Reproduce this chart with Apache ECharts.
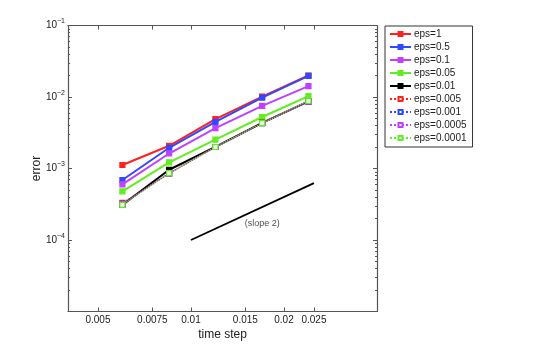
<!DOCTYPE html>
<html>
<head>
<meta charset="utf-8">
<script src="https://cdn.jsdelivr.net/npm/echarts@6/dist/echarts.min.js"></script>
<style>
  html, body { margin: 0; padding: 0; background: #fff; }
  #chart { width: 545px; height: 351px; }
</style>
</head>
<body>
<div id="chart"></div>
<script>
// time steps (x)
var steps = [0.006, 0.0085, 0.012, 0.017, 0.024];

// error for each eps
var eps1 = [1.12e-3, 2.08e-3, 4.9e-3, 1.01e-2, 2.0e-2];
var eps05 = [6.9e-4, 1.95e-3, 4.5e-3, 9.8e-3, 1.98e-2];
var eps01 = [6.0e-4, 1.62e-3, 3.66e-3, 7.5e-3, 1.42e-2];
var eps005 = [4.8e-4, 1.22e-3, 2.53e-3, 5.25e-3, 1.03e-2];
var eps001 = [3.1e-4, 9.6e-4, 2.0e-3, 4.35e-3, 8.7e-3];
var eps0005 = [3.3e-4, 8.5e-4, 2.0e-3, 4.35e-3, 8.7e-3];
var eps0001 = [3.2e-4, 8.6e-4, 2.0e-3, 4.3e-3, 8.7e-3];
var eps00005 = [3.15e-4, 8.6e-4, 2.0e-3, 4.3e-3, 8.7e-3];
var eps00001 = [3.1e-4, 8.6e-4, 2.0e-3, 4.3e-3, 8.8e-3];

// reference slope line
var slopeX = [0.01, 0.025];
var slopeY = [1e-4, 6.25e-4];
var slopeLabelAt = [0.017, 1.7e-4];

// tick labels
var xTicks = [0.005, 0.0075, 0.01, 0.015, 0.02, 0.025];
var yTicks = [1e-5, 1e-4, 1e-3, 1e-2, 1e-1];

var names = ['eps=1', 'eps=0.5', 'eps=0.1', 'eps=0.05', 'eps=0.01',
  'eps=0.005', 'eps=0.001', 'eps=0.0005', 'eps=0.0001'];
var values = [eps1, eps05, eps01, eps005, eps001, eps0005, eps0001, eps00005, eps00001];
var colors = ['#ff2020', '#3048ff', '#c040ff', '#60ee20', '#000000',
  '#ff2020', '#3048ff', '#c040ff', '#60ee20'];

var minorTicks = [];
for (var k = -5; k < -1; k++) {
  for (var m = 2; m <= 9; m++) minorTicks.push(m * Math.pow(10, k));
}

var font = '"Liberation Sans", Arial, sans-serif';
var axisColor = '#555';

function pairs(ys) {
  return ys.map(function (y, i) { return [steps[i], y]; });
}

var series = names.map(function (name, i) {
  var dotted = i >= 5;
  return {
    name: name,
    type: 'line',
    data: pairs(values[i]),
    symbol: 'rect',
    symbolSize: 5,
    showAllSymbol: true,
    animation: false,
    lineStyle: { color: colors[i], width: dotted ? 1.2 : 2, type: dotted ? 'dotted' : 'solid' },
    itemStyle: { color: dotted ? '#fff' : colors[i], borderColor: colors[i], borderWidth: 1.2 },
    z: 2 + i
  };
});

series.push({
  name: 'slope',
  type: 'line',
  data: slopeX.map(function (x, i) { return [x, slopeY[i]]; }),
  symbol: 'none',
  animation: false,
  lineStyle: { color: '#000', width: 1.8 }
});
series.push({
  name: 'slopeLabel',
  type: 'scatter',
  data: [slopeLabelAt],
  symbolSize: 0,
  animation: false,
  label: {
    show: true, position: 'inside', formatter: '(slope 2)',
    color: '#222', fontSize: 9, fontFamily: font
  }
});

function yAxisBase(pos, show) {
  return {
    type: 'log', logBase: 10, min: 1e-5, max: 1e-1, position: pos,
    axisLine: { show: show, onZero: false, lineStyle: { color: axisColor, width: 1.2 } },
    splitLine: { show: false },
    axisTick: { inside: true, length: 4, lineStyle: { color: axisColor } },
    axisLabel: { show: false }
  };
}

var yMain = yAxisBase('left', true);
yMain.name = 'error';
yMain.nameLocation = 'middle';
yMain.nameGap = 25;
yMain.nameMoveOverlap = false;
yMain.nameTextStyle = { color: '#222', fontSize: 12, fontFamily: font };
yMain.axisLabel = {
  show: true, margin: 3, color: '#222', fontFamily: font,
  formatter: function (v) {
    var e = Math.round(Math.log10(v));
    if (e === -5) return '';
    return '{b|10}{s|\u2212' + (-e) + '}';
  },
  rich: {
    b: { fontSize: 10, fontFamily: font, color: '#222' },
    s: { fontSize: 7, fontFamily: font, color: '#222', verticalAlign: 'top', padding: [0, 0, 8, 0] }
  }
};

function yMinor(pos) {
  var a = yAxisBase(pos, false);
  a.axisTick = { inside: true, length: 2, customValues: minorTicks, lineStyle: { color: axisColor } };
  return a;
}

function xAxisBase(pos) {
  return {
    type: 'log', logBase: 10, min: 0.004, max: 0.04, position: pos,
    axisLine: { show: true, onZero: false, lineStyle: { color: axisColor, width: 1.2 } },
    splitLine: { show: false },
    axisTick: { inside: true, length: 4, customValues: xTicks, lineStyle: { color: axisColor } },
    axisLabel: { show: false }
  };
}

var xMain = xAxisBase('bottom');
xMain.name = 'time step';
xMain.nameLocation = 'middle';
xMain.nameGap = 17;
xMain.nameMoveOverlap = false;
xMain.nameTextStyle = { color: '#222', fontSize: 12, fontFamily: font };
xMain.axisLabel = {
  show: true, customValues: xTicks, margin: 4, color: '#222', fontSize: 10, fontFamily: font,
  formatter: function (v) { return String(+v.toPrecision(6)); }
};

var chart = echarts.init(document.getElementById('chart'), null, { renderer: 'canvas' });
chart.setOption({
  backgroundColor: '#fff',
  animation: false,
  grid: { left: 68, right: 168, top: 25.5, bottom: 39.5, containLabel: false },
  legend: {
    data: names,
    orient: 'vertical',
    left: 385, top: 26,
    padding: [2, 6, 3, 4],
    itemWidth: 21, itemHeight: 5, itemGap: 1,
    borderColor: '#333', borderWidth: 1, borderRadius: 0,
    backgroundColor: '#fff',
    textStyle: { color: '#222', fontSize: 10, fontFamily: font, padding: [0, 0, 0, -2], lineHeight: 12 }
  },
  xAxis: [xMain, xAxisBase('top')],
  yAxis: [yMain, yAxisBase('right', true), yMinor('left'), yMinor('right')],
  series: series
});
</script>
</body>
</html>
